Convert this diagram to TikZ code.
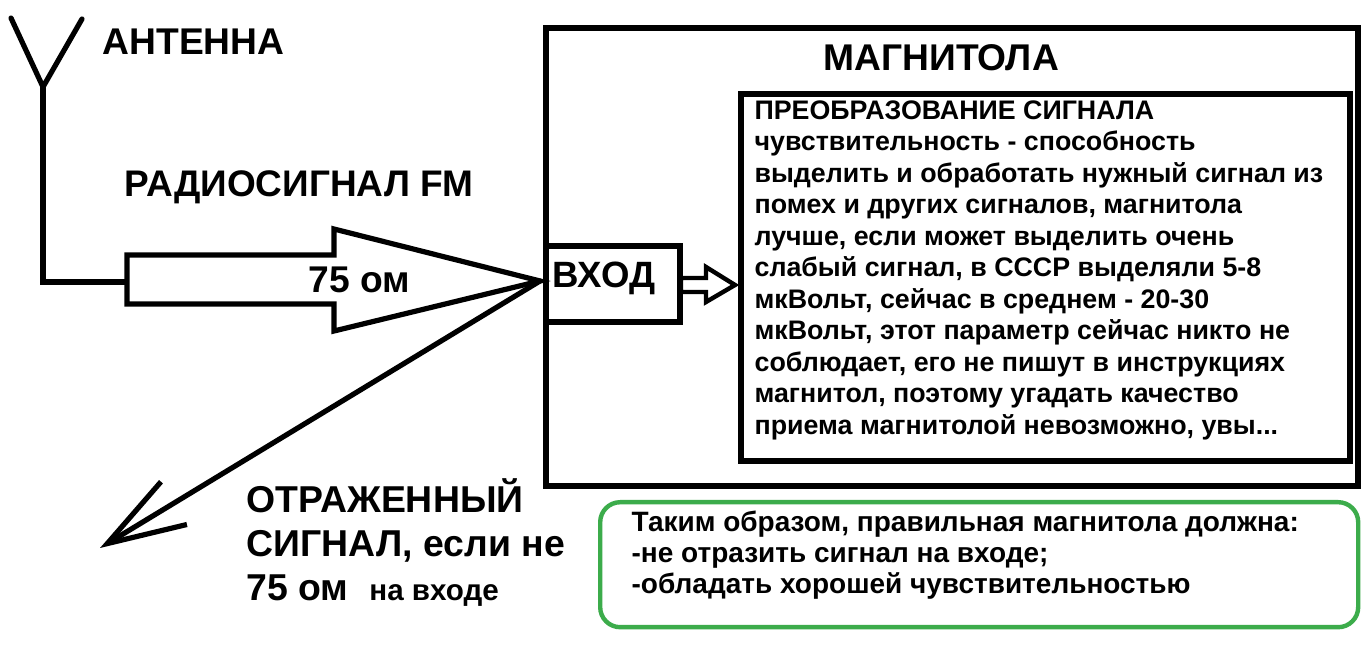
\documentclass[tikz,border=0pt]{standalone}
\usepackage{fontspec}
\setmainfont{Liberation Sans}
\usetikzlibrary{arrows.meta,positioning}
\definecolor{okgreen}{RGB}{60,172,75}

\begin{document}
\begin{tikzpicture}[x=0.5pt, y=-0.5pt, line width=2.6pt, line join=miter,
  big/.style={font=\fontsize{18.6}{22}\selectfont\bfseries, inner sep=0pt, anchor=base west},
  frame/.style={draw, line width=3pt, anchor=north west, inner sep=0pt},
  txt/.style={font=\fontsize{13.4}{15.75}\selectfont\bfseries, align=left, inner sep=0pt, anchor=north west},
  echo/.style={-{Straight Barb[length=39pt, width=25pt, line width=2.6pt]}, line cap=round}]
\useasboundingbox[fill=white] (0,0) rectangle (1367,657);

% antenna and feeder
\coordinate (ant) at (43,87);
\coordinate (feed) at (127,282);
\draw[line cap=round] (11,18) -- (ant) -- (82,19);
\draw (ant) |- (feed);
\node[big] (antname) at (100,55) {АНТЕННА};
\node[big, font=\fontsize{18.5}{22}\selectfont\bfseries] (fm) at (122,197) {РАДИОСИГНАЛ FM};

% receiver
\node[frame, minimum width=406pt, minimum height=229pt] (radio) at (543,25) {};
\node[big] (radioname) at (821,71) {МАГНИТОЛА};
\node[frame, minimum width=67pt, minimum height=38pt] (inp) at (543,243) {};
\node[big, font=\fontsize{18.3}{22}\selectfont\bfseries] (inpname) at (550,288) {ВХОД};
\node[frame, minimum width=304.5pt, minimum height=183.5pt] (conv) at (738,91) {};
\node[txt] (convtxt) at (752,98) {%
ПРЕОБРАЗОВАНИЕ СИГНАЛА\\
чувствительность - способность\\
выделить и обработать нужный сигнал из\\
помех и других сигналов, магнитола\\
лучше, если может выделить очень\\
слабый сигнал, в СССР выделяли 5-8\\
мкВольт, сейчас в среднем - 20-30\\
мкВольт, этот параметр сейчас никто не\\
соблюдает, его не пишут в инструкциях\\
магнитол, поэтому угадать качество\\
приема магнитолой невозможно, увы...};

% incoming signal
\coordinate (tip) at (540,281);
\draw (feed |- 0,255) -- (334,255) -- (334,229) -- (tip) -- (334,331) -- (334,304) -- (feed |- 0,304) -- cycle;
\node[big] (ohm) at (306,293) {75 ом};
\draw[line width=2.2pt] (681,278) -- (706,278) -- (706,267) -- (735,285) -- (706,302) -- (706,292) -- (681,292) -- cycle;

% reflected signal
\coordinate (back) at (100,548);
\draw[echo] (tip) -- (back);
\node[big, font=\fontsize{18.7}{22}\selectfont\bfseries, anchor=north west, align=left] (echotxt) at (244,476) {ОТРАЖЕННЫЙ\\СИГНАЛ, если не\\75 ом\ \ {\fontsize{14.8}{15}\selectfont на входе}};

% summary
\node[draw=okgreen, line width=2.2pt, rounded corners=10pt, anchor=north west,
  minimum width=379pt, minimum height=62.5pt] (sum) at (598,500) {};
\node[txt, font=\fontsize{14}{15.5}\selectfont\bfseries] (sumtxt) at (629,508) {%
Таким образом, правильная магнитола должна:\\
-не отразить сигнал на входе;\\
-обладать хорошей чувствительностью};
\end{tikzpicture}
\end{document}
